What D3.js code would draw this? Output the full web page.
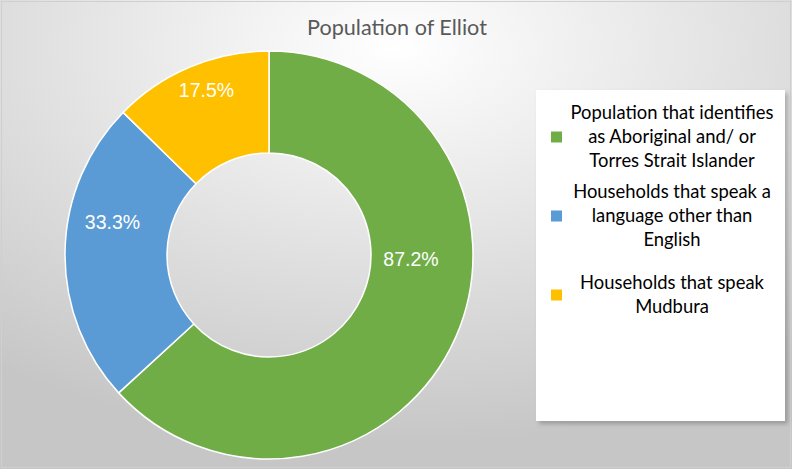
<!doctype html>
<html>
  <head>
    <script src="https://cdnjs.cloudflare.com/ajax/libs/d3/7.8.5/d3.min.js"></script>
    <style>
      body { margin: 0; }
      .title { font-family: Lato, "Open Sans", sans-serif; font-size: 21.6px; fill: #595959; text-anchor: middle; }
      .label { font-family: "Liberation Sans", Arial, sans-serif; font-size: 19.5px; fill: #fff; text-anchor: middle; }
      .legend text { font-family: Lato, "Open Sans", sans-serif; font-size: 18.4px; fill: #000; text-anchor: middle; }
    </style>
  </head>
  <body>
    <svg id="chart" width="792" height="469"></svg>
    <script>
      // values are shown as entered (each one is a share of its own base)
      var categories = [
        "Population that identifies as Aboriginal and/ or Torres Strait Islander",
        "Households that speak a language other than English",
        "Households that speak Mudbura"
      ];
      var values = [87.2, 33.3, 17.5];
      var labels = ["87.2%", "33.3%", "17.5%"];
      var legendLines = [
        ["Population that identifies", "as Aboriginal and/ or", "Torres Strait Islander"],
        ["Households that speak a", "language other than", "English"],
        ["Households that speak", "Mudbura"]
      ];
      var colors = ["#70AD47", "#5B9BD5", "#FFC000"];

      var svg = d3.select("#chart");
      var W = 792, H = 469;

      // background, grey radial fill like the office preset
      var defs = svg.append("defs");
      var rg = defs.append("radialGradient").attr("id", "bg")
          .attr("cx", "0.5").attr("cy", "0.1").attr("r", "0.85")
          .attr("fx", "0.5").attr("fy", "0.1");
      rg.append("stop").attr("offset", "0").attr("stop-color", "#ffffff");
      rg.append("stop").attr("offset", "1").attr("stop-color", "#c6c6c6");
      var sh = defs.append("filter").attr("id", "shadow")
          .attr("x", "-10%").attr("y", "-10%").attr("width", "130%").attr("height", "130%");
      sh.append("feDropShadow").attr("dx", 3).attr("dy", 3).attr("stdDeviation", 2)
          .attr("flood-color", "#000").attr("flood-opacity", 0.22);

      svg.append("rect").attr("width", W).attr("height", H).attr("fill", "url(#bg)");
      svg.append("rect").attr("x", 1.5).attr("y", 1.5).attr("width", W - 3).attr("height", H - 3)
          .attr("fill", "none").attr("stroke", "#cfcfcf").attr("stroke-width", 1);

      svg.append("text").attr("class", "title").attr("x", 397).attr("y", 27)
          .attr("dy", "0.35em").text("Population of Elliot");

      var cx = 269, cy = 255, outer = 204, inner = 102;
      var g = svg.append("g").attr("transform", "translate(" + cx + "," + cy + ")");

      var pie = d3.pie().sort(null).value(d => d);
      var arcs = pie(values);
      var arc = d3.arc().innerRadius(inner).outerRadius(outer);

      g.selectAll("path.slice")
        .data(arcs)
        .enter()
        .append("path")
          .attr("class", "slice")
          .attr("d", arc)
          .attr("fill", (d, i) => colors[i])
          .attr("stroke", "#fff")
          .attr("stroke-width", 1.5);

      // excel nudged the labels away from the exact centroids
      var labelShift = [-22, 11, 2];   // degrees
      var labelRadius = [142, 160, 176];
      g.selectAll("text.label")
        .data(arcs)
        .enter()
        .append("text")
          .attr("class", "label")
          .attr("dy", "0.35em")
          .attr("x", (d, i) => {
            var a = (d.startAngle + d.endAngle) / 2 + labelShift[i] * Math.PI / 180;
            return labelRadius[i] * Math.sin(a);
          })
          .attr("y", (d, i) => {
            var a = (d.startAngle + d.endAngle) / 2 + labelShift[i] * Math.PI / 180;
            return -labelRadius[i] * Math.cos(a);
          })
          .text((d, i) => labels[i]);

      // legend box
      var leg = svg.append("g").attr("class", "legend");
      leg.append("rect").attr("x", 536).attr("y", 90).attr("width", 249).attr("height", 331)
          .attr("fill", "#fff").attr("filter", "url(#shadow)");

      var lineH = 24;
      var itemTop = [113, 192, 283];
      categories.forEach((c, i) => {
        var lines = legendLines[i];
        var mid = itemTop[i] + (lines.length - 1) * lineH / 2;
        leg.append("rect").attr("x", 551).attr("y", mid - 5.5).attr("width", 11).attr("height", 11)
            .attr("fill", colors[i]);
        leg.selectAll(null)
          .data(lines)
          .enter()
          .append("text")
            .attr("x", 672)
            .attr("y", (d, j) => itemTop[i] + j * lineH)
            .attr("dy", "0.35em")
            .text(d => d);
      });
    </script>
  </body>
</html>
